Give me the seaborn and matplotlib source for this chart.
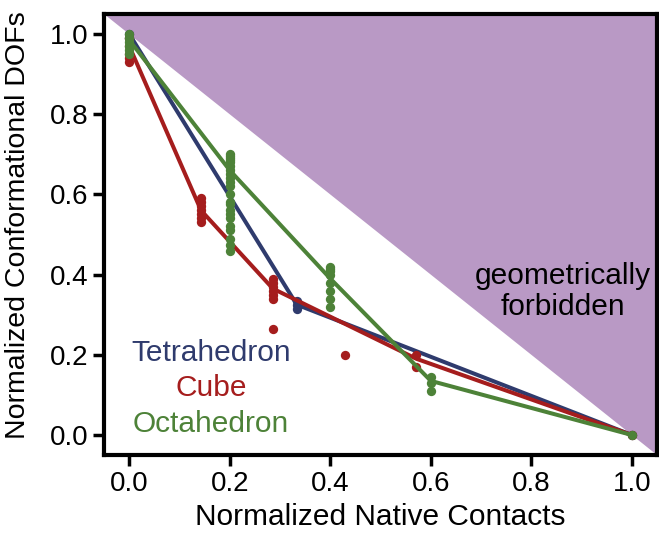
import pandas as pd
import seaborn as sns
import numpy as np
import matplotlib.pyplot as plt

sns.set_style("ticks")
plt.rcParams['font.family'] = ['Liberation Sans', 'DejaVu Sans']
plt.rcParams['text.color'] = 'black'
plt.rcParams['axes.labelcolor'] = 'black'
plt.rcParams['xtick.color'] = 'black'
plt.rcParams['ytick.color'] = 'black'

# mean curves
tet_x = [0.0, 1/3, 1.0]
tet_y = [1.0, 0.325, 0.0]
cube_x = [0.0, 1/7, 2/7, 4/7, 1.0]
cube_y = [0.97, 0.56, 0.365, 0.19, 0.0]
oct_x = [0.0, 0.2, 0.4, 0.6, 1.0]
oct_y = [0.985, 0.66, 0.39, 0.135, 0.0]

# individual runs
tet_pts_x = [0.0, 0.0, 1/3, 1/3, 1/3, 1.0]
tet_pts_y = [1.0, 0.99, 0.335, 0.325, 0.315, 0.0]
cube_pts_x = [0.0, 0.0, 0.0, 0.0, 0.0,
              1/7, 1/7, 1/7, 1/7, 1/7, 1/7, 1/7,
              2/7, 2/7, 2/7, 2/7, 2/7, 2/7, 2/7,
              3/7, 4/7, 4/7, 1.0]
cube_pts_y = [0.99, 0.97, 0.95, 0.94, 0.93,
              0.59, 0.58, 0.57, 0.56, 0.55, 0.54, 0.53,
              0.39, 0.38, 0.37, 0.36, 0.35, 0.34, 0.265,
              0.2, 0.2, 0.17, 0.0]
oct_pts_x = [0.0] * 6 + [0.2] * 22 + [0.4] * 8 + [0.6, 0.6, 0.6, 1.0]
oct_pts_y = [1.0, 0.99, 0.98, 0.97, 0.96, 0.95,
             0.70, 0.695, 0.69, 0.685, 0.68, 0.67, 0.66, 0.65, 0.64, 0.63, 0.62, 0.60, 0.58,
             0.575, 0.56, 0.55, 0.54, 0.52, 0.51, 0.49, 0.475, 0.46,
             0.42, 0.415, 0.41, 0.40, 0.38, 0.36, 0.34, 0.32,
             0.145, 0.13, 0.11, 0.0]

names = ["Tetrahedron", "Cube", "Octahedron"]
colors = ["#2f3b6d", "#a51d1d", "#4d8238"]

lines = pd.concat([
    pd.DataFrame({"x": tet_x, "y": tet_y, "shape": "Tetrahedron"}),
    pd.DataFrame({"x": cube_x, "y": cube_y, "shape": "Cube"}),
    pd.DataFrame({"x": oct_x, "y": oct_y, "shape": "Octahedron"}),
])
pts = pd.concat([
    pd.DataFrame({"x": tet_pts_x, "y": tet_pts_y, "shape": "Tetrahedron"}),
    pd.DataFrame({"x": cube_pts_x, "y": cube_pts_y, "shape": "Cube"}),
    pd.DataFrame({"x": oct_pts_x, "y": oct_pts_y, "shape": "Octahedron"}),
])

fig = plt.figure(figsize=(6.59, 5.36), dpi=100)
ax = fig.add_axes([0.158, 0.151, 0.839, 0.823])

# forbidden region y > 1 - x
ax.fill([-0.05, 1.05, 1.05], [1.05, 1.05, -0.05], color="#b999c5", lw=0, zorder=0)

for i, (name, c) in enumerate(zip(names, colors)):
    sns.lineplot(data=lines[lines["shape"] == name], x="x", y="y", color=c,
                 lw=2.9, sort=False, ax=ax, zorder=2 + i)
    sns.scatterplot(data=pts[pts["shape"] == name], x="x", y="y", color=c,
                    s=45, linewidth=0, ax=ax, zorder=2 + i)

ax.set_xlim(-0.05, 1.05)
ax.set_ylim(-0.05, 1.05)
ax.set_xticks(np.arange(0, 1.01, 0.2))
ax.set_yticks(np.arange(0, 1.01, 0.2))
ax.tick_params(labelsize=20, width=2.5, length=8, color="black", labelcolor="black")
for sp in ax.spines.values():
    sp.set_linewidth(3)
    sp.set_color("black")

ax.set_xlabel("Normalized Native Contacts", fontsize=21.5, color="black")
ax.set_ylabel("Normalized Conformational DOFs", fontsize=20.5, color="black")
ax.yaxis.set_label_coords(-0.132, 0.522)

ax.text(0.163, 0.205, "Tetrahedron", color=colors[0], fontsize=21.5, ha="center", va="center")
ax.text(0.163, 0.117, "Cube", color=colors[1], fontsize=21.5, ha="center", va="center")
ax.text(0.163, 0.027, "Octahedron", color=colors[2], fontsize=21.5, ha="center", va="center")
ax.text(0.863, 0.357, "geometrically\nforbidden", color="black", fontsize=21.5,
        ha="center", va="center", linespacing=1.15)

fig.savefig("out.png", dpi=100)
